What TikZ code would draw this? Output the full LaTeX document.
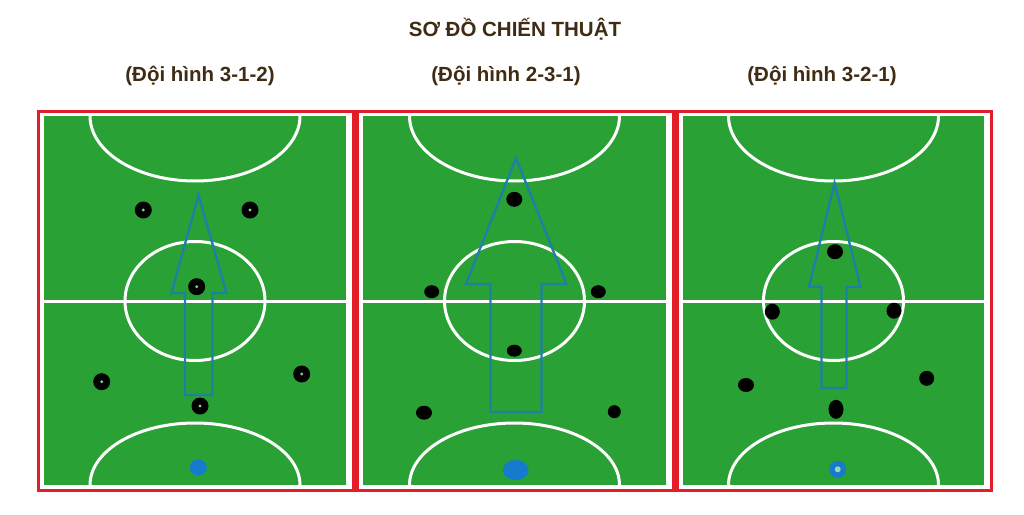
\documentclass[tikz,border=0pt]{standalone}
\usepackage{fontspec}
\setmainfont{Liberation Sans}
\usetikzlibrary{shapes.geometric}
\definecolor{pitch}{RGB}{41,161,53}
\definecolor{framered}{RGB}{228,30,40}
\definecolor{arrowblue}{RGB}{30,128,165}
\definecolor{gkblue}{RGB}{22,122,205}
\definecolor{txt}{RGB}{64,44,20}
\tikzset{
  titletext/.style={font=\fontsize{20.5}{24}\selectfont\bfseries, text=txt, inner sep=0pt},
  subtext/.style={font=\fontsize{20.5}{24}\selectfont\bfseries, text=txt, inner sep=0pt},
  fieldline/.style={draw=white, line width=3pt},
  movearrow/.style={draw=arrowblue, line width=2.4pt, line join=miter},
  ringp/.style={circle, fill=black, minimum size=17pt, inner sep=0pt,
    path picture={\fill[pitch!55!white] (path picture bounding box.center) circle (1.6pt);}},
  solidp/.style={ellipse, fill=black, inner sep=0pt},
  gkdot/.style={ellipse, fill=gkblue, inner sep=0pt},
  gkring/.style={circle, fill=gkblue, minimum size=17pt, inner sep=0pt,
    path picture={\fill[pitch!45!white] (path picture bounding box.center) circle (3pt);}}
}
\begin{document}
\begin{tikzpicture}[x=1pt,y=-1pt]
\useasboundingbox (0,0) rectangle (1024,514);
\fill[white] (0,0) rectangle (1024,514);

% titles
\node[titletext, anchor=base] (title) at (515,36) {SƠ ĐỒ CHIẾN THUẬT};
\node[subtext, anchor=base] (sub1) at (200,81) {(Đội hình 3-1-2)};
\node[subtext, anchor=base] (sub2) at (506,81) {(Đội hình 2-3-1)};
\node[subtext, anchor=base] (sub3) at (822,81) {(Đội hình 3-2-1)};

% red frame and dividers
\draw[framered, line width=3pt] (38.5,111.5) rectangle (991.5,490.5);
\fill[framered] (351.5,110) rectangle (358.5,492);
\fill[framered] (671.5,110) rectangle (678.5,492);

% pitches
\foreach \l/\r in {44/346,363/666,683/984} {
  \pgfmathsetmacro\cx{(\l+\r)/2}
  \begin{scope}
    \fill[pitch] (\l,116) rectangle (\r,485);
    \clip (\l,116) rectangle (\r,485);
    \draw[fieldline] (\l,301) -- (\r,301);
    \draw[fieldline] (\cx,116) ellipse [x radius=105pt, y radius=65pt];
    \draw[fieldline] (\cx,485) ellipse [x radius=105pt, y radius=62pt];
    \draw[fieldline] (\cx,301) ellipse [x radius=70pt, y radius=59.5pt];
  \end{scope}
}

% attack arrows
\draw[movearrow] (198.5,195) -- (226.5,293) -- (212.5,293) -- (212.5,395)
  -- (185,395) -- (185,293) -- (171.5,293) -- cycle;
\draw[movearrow] (516,158) -- (566.5,284) -- (541.5,284) -- (541.5,412)
  -- (490.5,412) -- (490.5,284) -- (466,284) -- cycle;
\draw[movearrow] (834.5,183) -- (860.5,287) -- (846.5,287) -- (846.5,388)
  -- (821.5,388) -- (821.5,287) -- (809,287) -- cycle;

% formation 3-1-2
\node[ringp] (a1) at (143.3,210) {};
\node[ringp] (a2) at (250,210) {};
\node[ringp] (a3) at (196.7,286.7) {};
\node[ringp] (a4) at (101.7,381.7) {};
\node[ringp] (a5) at (301.7,374) {};
\node[ringp] (a6) at (200,406) {};
\node[gkdot, minimum width=17pt, minimum height=16pt] (agk) at (198.3,467.5) {};

% formation 2-3-1
\node[solidp, minimum width=16pt, minimum height=15pt] (b1) at (514.3,199.3) {};
\node[solidp, minimum width=15pt, minimum height=13pt] (b2) at (431.7,291.7) {};
\node[solidp, minimum width=15pt, minimum height=13pt] (b3) at (598.3,291.7) {};
\node[solidp, minimum width=15pt, minimum height=12pt] (b4) at (514.3,350.7) {};
\node[solidp, minimum width=16pt, minimum height=14pt] (b5) at (424,412.7) {};
\node[solidp, minimum width=13pt, minimum height=13pt] (b6) at (614.3,411.7) {};
\node[gkdot, minimum width=26pt, minimum height=20pt] (bgk) at (515.7,470) {};

% formation 3-2-1
\node[solidp, minimum width=16pt, minimum height=15pt] (c1) at (835,251.7) {};
\node[solidp, minimum width=15pt, minimum height=16pt] (c2) at (772.3,311.7) {};
\node[solidp, minimum width=15pt, minimum height=16pt] (c3) at (894,310.7) {};
\node[solidp, minimum width=16pt, minimum height=14pt] (c4) at (746,385) {};
\node[solidp, minimum width=15pt, minimum height=15pt] (c5) at (926.7,378.3) {};
\node[solidp, minimum width=15pt, minimum height=19pt] (c6) at (836,409.3) {};
\node[gkring] (cgk) at (837.7,469.3) {};
\end{tikzpicture}
\end{document}
